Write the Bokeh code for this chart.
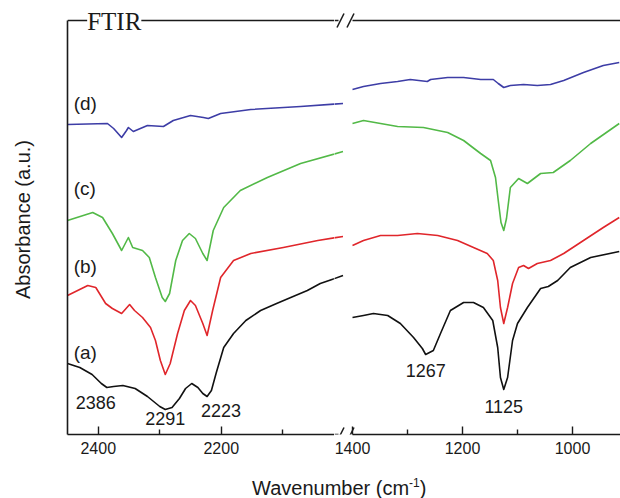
from bokeh.plotting import figure
from bokeh.models import Range1d, LinearAxis, FixedTicker, Label, Arrow, Div
from bokeh.layouts import row, column
from bokeh.embed import file_html
from bokeh.resources import INLINE

# ---- spectra, high-wavenumber window (cm-1) -------------------------------
a_hi_wn = [2450, 2430, 2410, 2395, 2386, 2375, 2360, 2340, 2320, 2300, 2291, 2280,
           2268, 2258, 2248, 2238, 2230, 2223, 2216, 2208, 2196, 2180, 2160, 2136,
           2110, 2087, 2060, 2039, 2020, 2002]
a_hi_abs = [0.71, 0.67, 0.60, 0.51, 0.47, 0.48, 0.49, 0.46, 0.38, 0.28, 0.25, 0.27,
            0.36, 0.46, 0.51, 0.47, 0.41, 0.38, 0.44, 0.62, 0.87, 1.01, 1.14, 1.24,
            1.31, 1.37, 1.44, 1.51, 1.55, 1.59]

b_hi_wn = [2450, 2417, 2404, 2388, 2377, 2362, 2349, 2341, 2328, 2315, 2307, 2299,
           2291, 2283, 2271, 2260, 2250, 2242, 2230, 2223, 2214, 2201, 2180, 2152,
           2099, 2043, 2002]
b_hi_abs = [1.39, 1.49, 1.47, 1.31, 1.26, 1.21, 1.30, 1.24, 1.17, 1.07, 0.94, 0.74,
            0.60, 0.71, 1.01, 1.24, 1.34, 1.29, 1.11, 0.99, 1.24, 1.57, 1.74, 1.81,
            1.87, 1.94, 1.98]

c_hi_wn = [2450, 2409, 2393, 2377, 2362, 2351, 2344, 2328, 2317, 2307, 2296, 2291,
           2284, 2274, 2263, 2252, 2242, 2230, 2223, 2213, 2196, 2169, 2125, 2071, 2002]
c_hi_abs = [2.14, 2.22, 2.17, 2.01, 1.84, 1.97, 1.87, 1.84, 1.77, 1.57, 1.37, 1.33,
            1.41, 1.74, 1.94, 2.01, 1.96, 1.81, 1.74, 2.04, 2.27, 2.44, 2.57, 2.71, 2.83]

d_hi_wn = [2450, 2385, 2375, 2362, 2354, 2351, 2343, 2320, 2294, 2278, 2250, 2229,
           2221, 2201, 2152, 2071, 2002]
d_hi_abs = [3.10, 3.11, 3.06, 2.97, 3.04, 3.07, 3.03, 3.09, 3.08, 3.14, 3.19, 3.17,
            3.16, 3.21, 3.25, 3.28, 3.31]

# ---- spectra, fingerprint window (cm-1) -----------------------------------
a_lo_wn = [1400, 1380, 1362, 1336, 1313, 1289, 1273, 1267, 1253, 1240, 1222, 1198,
           1180, 1162, 1145, 1136, 1131, 1125, 1118, 1109, 1100, 1082, 1058, 1044,
           1027, 1004, 967, 915]
a_lo_abs = [1.17, 1.19, 1.21, 1.19, 1.11, 0.97, 0.86, 0.80, 0.84, 1.01, 1.24, 1.32,
            1.32, 1.27, 1.14, 0.87, 0.57, 0.45, 0.57, 0.94, 1.11, 1.27, 1.46, 1.48,
            1.54, 1.67, 1.77, 1.83]

b_lo_wn = [1400, 1380, 1349, 1318, 1282, 1245, 1209, 1180, 1155, 1144, 1136, 1131,
           1125, 1118, 1109, 1098, 1089, 1080, 1064, 1040, 1016, 980, 944, 915]
b_lo_abs = [1.89, 1.94, 1.99, 1.99, 2.01, 1.99, 1.94, 1.87, 1.81, 1.74, 1.54, 1.27,
            1.11, 1.27, 1.51, 1.67, 1.69, 1.66, 1.71, 1.74, 1.81, 1.94, 2.07, 2.17]

c_lo_wn = [1400, 1380, 1349, 1318, 1271, 1227, 1198, 1167, 1149, 1140, 1135, 1130,
           1125, 1120, 1113, 1098, 1082, 1058, 1035, 1004, 967, 915]
c_lo_abs = [3.11, 3.14, 3.11, 3.08, 3.07, 3.02, 2.94, 2.81, 2.74, 2.57, 2.34, 2.12,
            2.04, 2.16, 2.47, 2.56, 2.51, 2.61, 2.62, 2.74, 2.91, 3.11]

d_lo_wn = [1400, 1380, 1349, 1318, 1295, 1264, 1258, 1227, 1198, 1167, 1144, 1135,
           1125, 1113, 1089, 1064, 1040, 1016, 980, 944, 915]
d_lo_abs = [3.45, 3.48, 3.51, 3.53, 3.55, 3.53, 3.55, 3.57, 3.57, 3.55, 3.55, 3.51,
            3.47, 3.49, 3.50, 3.49, 3.50, 3.54, 3.62, 3.69, 3.72]

sample_tags = ["(a)", "(b)", "(c)", "(d)"]
sample_colors = ["#111111", "#e0262b", "#52b947", "#3d3da6"]
tag_y = [0.825, 1.68, 2.465, 3.315]

hi_ticks = [2400, 2200]
hi_minor = [2300, 2100]
lo_ticks = [1400, 1200, 1000]
lo_minor = [1300, 1100]

# marked band positions and where their numbers sit (vertical centre of the text)
hi_peaks = [2386, 2291, 2223]
hi_peak_y = [0.325, 0.165, 0.245]
hi_peak_dx = [-11, 0, 14]
lo_peaks = [1267, 1125]
lo_peak_y = [0.645, 0.285]
lo_peak_dx = [0, 0]

FONT = "Liberation Sans"
INK = "#1a1a1a"
Y_LO, Y_TOP, Y_MAX = 0.0, 4.14, 4.30      # Y_TOP carries the top frame line

# horizontal scales: 0.615 px per cm-1 on the left window, 0.55 px per cm-1 on the right
LEFT_W, RIGHT_W, PAD_L = 334, 286, 67
HI_START = 2450.0
HI_END = HI_START - (LEFT_W - PAD_L) / 0.615          # where the left frame stops
LO_START = 1400 + 18 / 0.55                           # right frame starts 18 px before 1400
LO_END = 1400 - (RIGHT_W - 18) / 0.55
HI_CONT = (HI_END, HI_END - RIGHT_W / 0.615)           # left scale carried on past the seam


def panel(x_range, width, left_border, extra=None):
    p = figure(width=width, height=464, x_range=x_range, y_range=Range1d(Y_LO, Y_MAX),
               x_axis_type=None, y_axis_type=None, toolbar_location=None,
               output_backend="svg", min_border_left=left_border, min_border_right=0,
               min_border_top=4, min_border_bottom=30)
    if extra:
        p.extra_x_ranges = extra
    p.outline_line_color = None
    p.background_fill_color = "white"
    p.border_fill_color = "white"
    return p


def bottom_axis(p, bounds, majors, minors):
    ax = LinearAxis(ticker=FixedTicker(ticks=majors, minor_ticks=minors), bounds=bounds)
    ax.major_tick_in = 8
    ax.major_tick_out = 0
    ax.minor_tick_in = 5
    ax.minor_tick_out = 0
    ax.axis_line_width = 1.6
    ax.axis_line_color = INK
    ax.major_tick_line_width = 1.4
    ax.major_tick_line_color = INK
    ax.minor_tick_line_width = 1.4
    ax.minor_tick_line_color = INK
    ax.major_label_text_font = FONT
    ax.major_label_text_font_size = "16px"
    ax.major_label_text_color = INK
    ax.major_label_standoff = 7
    p.add_layout(ax, "below")


def top_rule(p, x0, x1):
    p.segment(x0=[x0], y0=[Y_TOP], x1=[x1], y1=[Y_TOP], line_color=INK, line_width=1.6)


def slash(p, x0, y0, x1, y1):
    p.add_layout(Arrow(start=None, end=None, x_start=x0, y_start=y0, x_end=x1, y_end=y1,
                       line_color=INK, line_width=1.5))


# left window: 2450 -> ~2016 cm-1
left = panel(Range1d(HI_START, HI_END), LEFT_W, PAD_L)
bottom_axis(left, (HI_END, HI_START), hi_ticks, hi_minor)
top_rule(left, HI_START, HI_END)

yax = LinearAxis(ticker=FixedTicker(ticks=[]), axis_label="Absorbance (a.u.)",
                 bounds=(Y_LO, Y_TOP))
yax.axis_line_width = 1.6
yax.axis_line_color = INK
yax.major_tick_out = 0
yax.major_tick_in = 0
yax.major_label_standoff = 0
yax.major_label_text_font_size = "0px"
yax.axis_label_text_font = FONT
yax.axis_label_text_font_size = "20px"
yax.axis_label_text_font_style = "normal"
yax.axis_label_text_color = INK
yax.axis_label_standoff = 34
left.add_layout(yax, "left")

# right window: 1400 -> ~913 cm-1, with the left scale kept as an extra range so the
# ends of the high-wavenumber traces carry on up to the break
right = panel(Range1d(LO_START, LO_END), RIGHT_W, 0, extra={"hi": Range1d(*HI_CONT)})
bottom_axis(right, (LO_END, 1400), lo_ticks, lo_minor)
top_rule(right, 1400, LO_END)

# frame-line stubs and the // break marks at the seam
px = 1 / 0.55
dy = 0.07
top_rule(right, LO_START, LO_START - 4 * px)
right.add_layout(Arrow(start=None, end=None, x_start=LO_START, y_start=Y_LO,
                       x_end=LO_START - 4 * px, y_end=Y_LO, line_color=INK, line_width=1.6))
for y0 in (Y_LO, Y_TOP):
    slash(right, LO_START - 2.5 * px, y0 - dy, LO_START - 9.5 * px, y0 + dy)
    slash(right, LO_START - 12.5 * px, y0 - dy, LO_START - 19.5 * px, y0 + dy)

hi_series = [(a_hi_wn, a_hi_abs), (b_hi_wn, b_hi_abs), (c_hi_wn, c_hi_abs), (d_hi_wn, d_hi_abs)]
lo_series = [(a_lo_wn, a_lo_abs), (b_lo_wn, b_lo_abs), (c_lo_wn, c_lo_abs), (d_lo_wn, d_lo_abs)]

for (xs, ys), color in zip(hi_series, sample_colors):
    left.line(xs, ys, line_color=color, line_width=1.6, line_join="round")
    right.line(xs, ys, line_color=color, line_width=1.6, line_join="round",
               x_range_name="hi")
for (xs, ys), color in zip(lo_series, sample_colors):
    right.line(xs, ys, line_color=color, line_width=1.6, line_join="round")

for tag, ty in zip(sample_tags, tag_y):
    left.add_layout(Label(x=2440, y=ty, text=tag, text_font=FONT, text_font_size="19px",
                          text_color=INK, text_align="left", text_baseline="middle"))

for wn, py, dx in zip(hi_peaks, hi_peak_y, hi_peak_dx):
    left.add_layout(Label(x=wn, y=py, x_offset=dx, text=str(wn), text_font=FONT,
                          text_font_size="18px", text_color=INK, text_align="center",
                          text_baseline="middle"))
for wn, py, dx in zip(lo_peaks, lo_peak_y, lo_peak_dx):
    right.add_layout(Label(x=wn, y=py, x_offset=dx, text=str(wn), text_font=FONT,
                           text_font_size="18px", text_color=INK, text_align="center",
                           text_baseline="middle"))

# panel caption sitting on the top frame line
left.add_layout(Label(x=2374, y=4.13, text="FTIR", text_font="Liberation Serif",
                      text_font_size="25px", text_color=INK, text_align="center",
                      text_baseline="middle", background_fill_color="white"))

xtitle = Div(text=('<span style="font-family: \'Liberation Sans\', Arial, sans-serif; '
                   'font-size: 20px; color: #1a1a1a; white-space: nowrap;">'
                   'Wavenumber (cm<sup style="font-size: 12px;">-1</sup>)</span>'),
             width=368, height=24, margin=(10, 0, 0, 252))

layout = column(row(left, right), xtitle)

with open("out.html", "w") as f:
    f.write(file_html(layout, INLINE))
